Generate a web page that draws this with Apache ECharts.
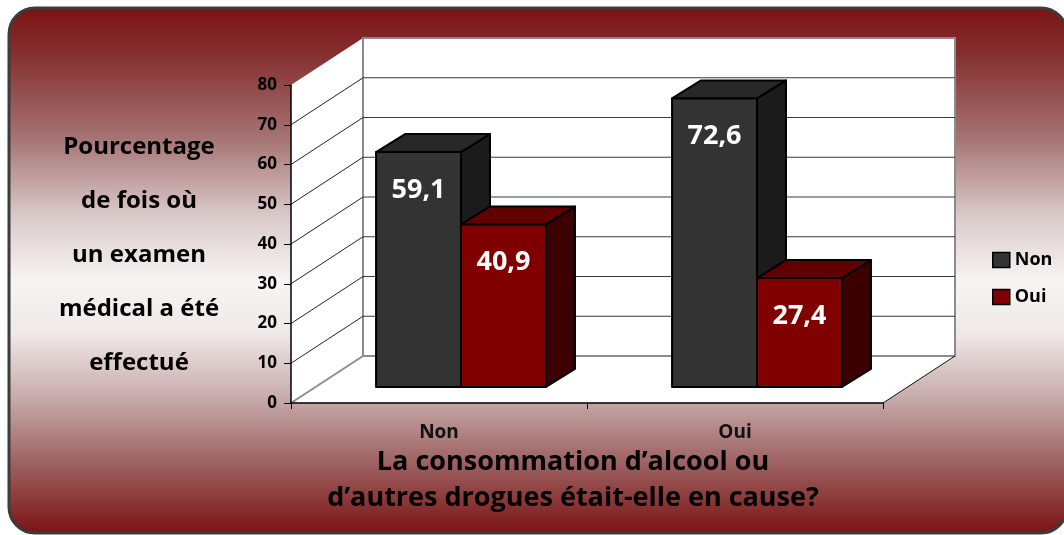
<!DOCTYPE html>
<html>
<head>
<meta charset="utf-8">
<script src="https://cdn.jsdelivr.net/npm/echarts@6/dist/echarts.min.js"></script>
<style>
  html, body { margin: 0; padding: 0; background: #fff; }
  #main { width: 1064px; height: 535px; }
</style>
</head>
<body>
<div id="main"></div>
<script>
// données
const categories = ['Non', 'Oui'];
const nonValues = [59.1, 72.6];
const ouiValues = [40.9, 27.4];
const yTicks = [0, 10, 20, 30, 40, 50, 60, 70, 80];
const yTitle = 'Pourcentage\nde fois où\nun examen\nmédical a été\neffectué';
const xTitle = 'La consommation d\u2019alcool ou\nd\u2019autres drogues était-elle en cause?';

const FONT = '"Open Sans", "DejaVu Sans", sans-serif';
const DEPTH = [72, -47];      // profondeur du plancher (projection)
const SHIFT = [22, -16];      // face avant des barres
const BAR_DEPTH = [29, -18];
const BAR_COLORS = [
  { front: '#333333', top: '#282828', side: '#1b1b1b' },
  { front: '#800000', top: '#620000', side: '#3c0000' }
];

const chart = echarts.init(document.getElementById('main'));

// murs et plancher
function renderPlanes(params, api) {
  const cs = params.coordSys;
  const x0 = cs.x, x1 = cs.x + cs.width;
  const yb = api.coord([0, 0])[1];
  const yt = api.coord([0, api.value(1)])[1];
  const dx = DEPTH[0], dy = DEPTH[1];
  return {
    type: 'group',
    children: [
      { type: 'polygon', shape: { points: [[x0, yt], [x0 + dx, yt + dy], [x0 + dx, yb + dy], [x0, yb]] },
        style: { fill: '#fff' } },
      { type: 'polygon', shape: { points: [[x0, yb], [x1, yb], [x1 + dx, yb + dy], [x0 + dx, yb + dy]] },
        style: { fill: '#fff' } },
      { type: 'rect', shape: { x: x0 + dx, y: yt + dy, width: x1 - x0, height: yb - yt },
        style: { fill: '#fff', stroke: '#8c8c8c', lineWidth: 2 } },
      { type: 'line', shape: { x1: x0, y1: yb, x2: x0 + dx, y2: yb + dy },
        style: { stroke: '#8c8c8c', lineWidth: 2 } },
      { type: 'line', shape: { x1: x1, y1: yb, x2: x1 + dx, y2: yb + dy },
        style: { stroke: '#111', lineWidth: 1 } }
    ]
  };
}

// lignes de quadrillage (côté + fond)
function renderGrid(params, api) {
  const v = api.value(1);
  if (v === 0 || v === yTicks[yTicks.length - 1]) return null;
  const cs = params.coordSys;
  const x0 = cs.x, x1 = cs.x + cs.width;
  const y = api.coord([0, v])[1];
  const dx = DEPTH[0], dy = DEPTH[1];
  return {
    type: 'group',
    children: [
      { type: 'line', shape: { x1: x0, y1: y, x2: x0 + dx, y2: y + dy },
        style: { stroke: '#222', lineWidth: 1 } },
      { type: 'line', shape: { x1: x0 + dx, y1: y + dy, x2: x1 + dx, y2: y + dy },
        style: { stroke: '#3a3a3a', lineWidth: 1 } }
    ]
  };
}

function bar3d(idx) {
  return function (params, api) {
    const cat = api.value(0), val = api.value(1);
    const base = api.coord([cat, 0]);
    const top = api.coord([cat, val]);
    const w = api.size([1, 0])[0] * 0.287;
    const xa = base[0] + SHIFT[0] + (idx - 1) * w;
    const xb = xa + w;
    const yb = base[1] + SHIFT[1], yt = top[1] + SHIFT[1];
    const dx = BAR_DEPTH[0], dy = BAR_DEPTH[1];
    const c = BAR_COLORS[idx];
    const st = (fill) => ({ fill: fill, stroke: '#000', lineWidth: 2, lineJoin: 'round' });
    return {
      type: 'group',
      children: [
        { type: 'polygon', shape: { points: [[xb, yt], [xb + dx, yt + dy], [xb + dx, yb + dy], [xb, yb]] }, style: st(c.side) },
        { type: 'polygon', shape: { points: [[xa, yt], [xb, yt], [xb + dx, yt + dy], [xa + dx, yt + dy]] }, style: st(c.top) },
        { type: 'rect', shape: { x: xa, y: yt, width: w, height: yb - yt }, style: st(c.front) },
        { type: 'text', style: {
            x: (xa + xb) / 2, y: yt + 38, text: String(val).replace('.', ','),
            fill: '#fff', font: 'bold 27px ' + FONT, align: 'center', verticalAlign: 'middle' } }
      ]
    };
  };
}

const option = {
  animation: false,
  graphic: [
    { type: 'rect', z: -10,
      shape: { x: 9, y: 8, width: 1058, height: 525, r: 26 },
      style: {
        fill: new echarts.graphic.LinearGradient(0, 0, 0, 1, [
          { offset: 0, color: '#7b1212' },
          { offset: 0.1, color: '#873333' },
          { offset: 0.25, color: '#a67474' },
          { offset: 0.4, color: '#dccbcb' },
          { offset: 0.52, color: '#f7f4f4' },
          { offset: 0.62, color: '#efe8e8' },
          { offset: 0.74, color: '#c8abab' },
          { offset: 0.87, color: '#9c5e5e' },
          { offset: 1, color: '#7b1212' }
        ]),
        stroke: '#3c3c3c', lineWidth: 3
      } },
    { type: 'text', z: 10, x: 0, y: 0,
      style: { text: yTitle, x: 139, y: 255, font: 'bold 24px ' + FONT, fill: '#000',
        align: 'center', verticalAlign: 'middle', lineHeight: 54 } },
    { type: 'text', z: 10, x: 0, y: 0,
      style: { text: xTitle, x: 573, y: 480, font: 'bold 27px ' + FONT, fill: '#000',
        align: 'center', verticalAlign: 'middle', lineHeight: 36 } }
  ],
  legend: {
    data: categories.slice(),
    orient: 'vertical',
    left: 987, top: 246,
    itemWidth: 17, itemHeight: 15, itemGap: 19,
    icon: 'rect',
    itemStyle: { borderColor: '#000', borderWidth: 1.5 },
    textStyle: { fontFamily: FONT, fontWeight: 'bold', fontSize: 18, color: '#000' }
  },
  grid: { left: 291, top: 85, width: 592, height: 318, containLabel: false },
  xAxis: {
    type: 'category',
    data: categories,
    z: 10,
    axisLine: { lineStyle: { color: '#000', width: 1.5 } },
    axisTick: { show: true, length: 6, lineStyle: { color: '#000' } },
    axisLabel: { fontFamily: FONT, fontWeight: 'bold', fontSize: 19, color: '#111', margin: 20 }
  },
  yAxis: {
    type: 'value', min: 0, max: 80, interval: 10,
    z: 10,
    axisLine: { show: true, lineStyle: { color: '#000', width: 1.5 } },
    axisTick: { show: true, length: 7, lineStyle: { color: '#000' } },
    axisLabel: { fontFamily: FONT, fontWeight: 'bold', fontSize: 17, color: '#000', margin: 14 },
    splitLine: { show: false }
  },
  series: [
    { type: 'custom', name: 'planes', z: 1, silent: true,
      renderItem: renderPlanes, data: [[0, yTicks[yTicks.length - 1]]] },
    { type: 'custom', name: 'grid', z: 1, silent: true,
      renderItem: renderGrid, data: yTicks.map(v => [0, v]) },
    { type: 'custom', name: 'Non', z: 3,
      itemStyle: { color: BAR_COLORS[0].front },
      renderItem: bar3d(0), data: nonValues.map((v, i) => [i, v]) },
    { type: 'custom', name: 'Oui', z: 3,
      itemStyle: { color: BAR_COLORS[1].front },
      renderItem: bar3d(1), data: ouiValues.map((v, i) => [i, v]) }
  ]
};

chart.setOption(option);
</script>
</body>
</html>
